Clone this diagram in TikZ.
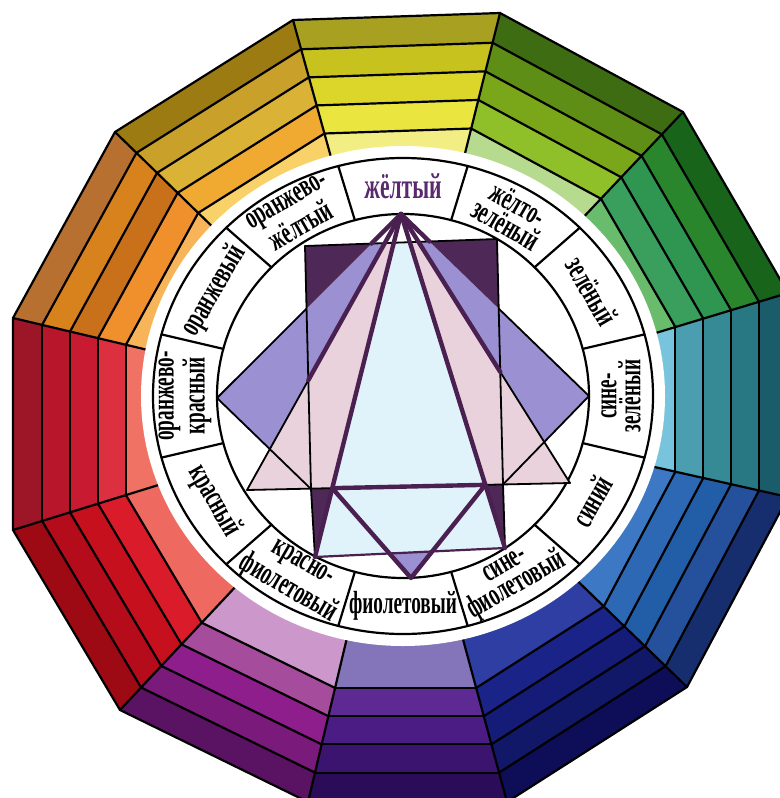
\documentclass[tikz,border=0pt]{standalone}
\usepackage{graphicx}
\usepackage{fontspec}
\setmainfont{Liberation Serif}
\newfontfamily\lblfont{Liberation Serif Bold}
\newcommand\sq[1]{\scalebox{0.6}[1]{#1}}
\usetikzlibrary{calc}
% segment colours, outer (a) to inner (e)
\definecolor{a90}{HTML}{A8A020}\definecolor{b90}{HTML}{C8C21E}\definecolor{c90}{HTML}{DCD62A}\definecolor{d90}{HTML}{EBE540}\definecolor{e90}{HTML}{F2EE84}
\definecolor{a60}{HTML}{3E6C12}\definecolor{b60}{HTML}{5E8E16}\definecolor{c60}{HTML}{7AA61A}\definecolor{d60}{HTML}{8FC02A}\definecolor{e60}{HTML}{B6DA8E}
\definecolor{a30}{HTML}{17641A}\definecolor{b30}{HTML}{2A862C}\definecolor{c30}{HTML}{2E9650}\definecolor{d30}{HTML}{3A9E5C}\definecolor{e30}{HTML}{68BC6C}
\definecolor{a0}{HTML}{1A5C6A}\definecolor{b0}{HTML}{287884}\definecolor{c0}{HTML}{368A96}\definecolor{d0}{HTML}{4A9EB0}\definecolor{e0}{HTML}{78C4DC}
\definecolor{a330}{HTML}{162E6E}\definecolor{b330}{HTML}{24509C}\definecolor{c330}{HTML}{225EA8}\definecolor{d330}{HTML}{2C68B4}\definecolor{e330}{HTML}{3C78C4}
\definecolor{a300}{HTML}{0E0E58}\definecolor{b300}{HTML}{121868}\definecolor{c300}{HTML}{141C78}\definecolor{d300}{HTML}{1A2488}\definecolor{e300}{HTML}{2E3EA2}
\definecolor{a270}{HTML}{2A0C58}\definecolor{b270}{HTML}{3A146E}\definecolor{c270}{HTML}{4A1C84}\definecolor{d270}{HTML}{5C2A92}\definecolor{e270}{HTML}{8474BA}
\definecolor{a240}{HTML}{5A1262}\definecolor{b240}{HTML}{7A1A7A}\definecolor{c240}{HTML}{8E1E8C}\definecolor{d240}{HTML}{A64C9C}\definecolor{e240}{HTML}{CC98CC}
\definecolor{a210}{HTML}{9E0A14}\definecolor{b210}{HTML}{B40C1A}\definecolor{c210}{HTML}{C6101E}\definecolor{d210}{HTML}{DA1C2A}\definecolor{e210}{HTML}{EE6A60}
\definecolor{a180}{HTML}{9C1628}\definecolor{b180}{HTML}{B8162A}\definecolor{c180}{HTML}{C81A30}\definecolor{d180}{HTML}{DC3040}\definecolor{e180}{HTML}{F07264}
\definecolor{a150}{HTML}{B87030}\definecolor{b150}{HTML}{D8821E}\definecolor{c150}{HTML}{C8701A}\definecolor{d150}{HTML}{F0902C}\definecolor{e150}{HTML}{F8B458}
\definecolor{a120}{HTML}{9C7C12}\definecolor{b120}{HTML}{C9A02A}\definecolor{c120}{HTML}{D9B236}\definecolor{d120}{HTML}{F0AA32}\definecolor{e120}{HTML}{F8D268}
% centre figure colours
\definecolor{dpurple}{HTML}{4E2856}
\definecolor{lav}{HTML}{9A90D2}
\definecolor{pinkish}{HTML}{E9D2DC}
\definecolor{lblue}{HTML}{E0F3FA}
\definecolor{lineP}{HTML}{4A2050}
\definecolor{yelText}{HTML}{5A2A6E}
\begin{document}
\begin{tikzpicture}[x=0.5pt,y=-0.5pt,
  bl/.style={draw=black,line width=1.1pt,line cap=round},
  thk/.style={draw=lineP,line width=2.2pt,line cap=round,line join=round},
  thn/.style={draw=black,line width=0.9pt,line cap=round},
  lb/.style={font={\lblfont\fontsize{16}{12}\selectfont},align=center,inner sep=0pt}]
\useasboundingbox (0,0) rectangle (780,798);
\fill[white] (0,0) rectangle (780,798);
\begin{scope}
\clip (0,0) rectangle (780,798);
\coordinate (C) at (401,410);
\coordinate (V0) at (788,293);
\coordinate (V1) at (683,112);
\coordinate (V2) at (500,13);
\coordinate (V3) at (293,20);
\coordinate (V4) at (115,132);
\coordinate (V5) at (13,318);
\coordinate (V6) at (13,530);
\coordinate (V7) at (120,710);
\coordinate (V8) at (308,802);
\coordinate (V9) at (507,802);
\coordinate (V10) at (687,687);
\coordinate (V11) at (788,497);
\foreach \i/\a/\b in {0/V11/V0,30/V0/V1,60/V1/V2,90/V2/V3,120/V3/V4,150/V4/V5,180/V5/V6,210/V6/V7,240/V7/V8,270/V8/V9,300/V9/V10,330/V10/V11}{
  \foreach \t/\u/\cl in {1/.925/a,.925/.853/b,.853/.781/c,.781/.709/d,.709/.55/e}{
    \fill[\cl\i] ($(C)!\t!(\a)$) -- ($(C)!\t!(\b)$) -- ($(C)!\u!(\b)$) -- ($(C)!\u!(\a)$) -- cycle;
  }
  \foreach \t in {.925,.853,.781,.709}{
    \draw[bl] ($(C)!\t!(\a)$) -- ($(C)!\t!(\b)$);
  }
}
\foreach \v in {V0,V1,V2,V3,V4,V5,V6,V7,V8,V9,V10,V11}{
  \draw[bl] (\v) -- ($(C)!.55!(\v)$);
}
\draw[bl,line join=round] (V0) -- (V1) -- (V2) -- (V3) -- (V4) -- (V5) -- (V6) -- (V7) -- (V8) -- (V9) -- (V10) -- (V11) -- cycle;
\end{scope}
% white disk and label ring
\fill[white] (403,396) ellipse [x radius=262, y radius=250];
\draw[line width=1.1pt] (403,396) ellipse [x radius=250, y radius=238];
\draw[line width=1.1pt] (403,396) ellipse [x radius=186, y radius=182];
\foreach \th in {15,45,...,345}{
  \draw[bl] ({403+186*cos(\th)},{396-182*sin(\th)}) -- ({403+250*cos(\th)},{396-238*sin(\th)});
}
% centre figure
\coordinate (Y) at (401,214);
\coordinate (L) at (217,398);
\coordinate (R) at (589,396);
\coordinate (CL) at (247,490);
\coordinate (CR) at (570,483);
\coordinate (TL) at (305,246);
\coordinate (TR) at (497,239);
\coordinate (BR) at (503,484.5);
\coordinate (BL) at (311,489);
\coordinate (P1) at (315,557);
\coordinate (P2) at (505,548);
\coordinate (V) at (411,578);
\coordinate (tL) at (intersection of Y--L and TL--TR);
\coordinate (tCL) at (intersection of Y--CL and TL--TR);
\coordinate (tP1) at (intersection of Y--P1 and TL--TR);
\coordinate (tP2) at (intersection of Y--P2 and TL--TR);
\coordinate (tCR) at (intersection of Y--CR and TL--TR);
\coordinate (tR) at (intersection of Y--R and TL--TR);
\coordinate (sL) at (intersection of Y--L and TL--BL);
\coordinate (sR) at (intersection of Y--R and TR--BR);
\coordinate (eCL) at (intersection of Y--CL and TL--BL);
\coordinate (eCR) at (intersection of Y--CR and TR--BR);
\coordinate (X1) at (intersection of Y--CL and L--BL);
\coordinate (X2) at (intersection of Y--CR and R--BR);
\coordinate (Q1) at (intersection of Y--P1 and CL--CR);
\coordinate (Q2) at (intersection of Y--P2 and CL--CR);
\coordinate (W1) at (intersection of Q1--V and P1--P2);
\coordinate (W2) at (intersection of Q2--V and P1--P2);
\fill[lblue] (tP1) -- (tP2) -- (P2) -- (P1) -- cycle;
\fill[pinkish] (tCL) -- (tP1) -- (Q1) -- (CL) -- cycle;
\fill[pinkish] (tP2) -- (tCR) -- (CR) -- (Q2) -- cycle;
\fill[lav] (tL) -- (tCL) -- (X1) -- (L) -- cycle;
\fill[lav] (tR) -- (tCR) -- (X2) -- (R) -- cycle;
\fill[dpurple] (TL) -- (tL) -- (sL) -- cycle;
\fill[dpurple] (TR) -- (tR) -- (sR) -- cycle;
\fill[dpurple] (BL) -- (Q1) -- (P1) -- cycle;
\fill[dpurple] (Q2) -- (BR) -- (P2) -- cycle;
\fill[lav] (W1) -- (W2) -- (V) -- cycle;
\draw[thn] (TL) -- (TR) -- (BR) -- (P2);
\draw[thn] (TL) -- (BL) -- (P1);
\draw[thn] (CL) -- (CR);
\draw[thn] (L) -- (BL);
\draw[thn] (R) -- (BR);
\draw[thn] (sL) -- (L);
\draw[thn] (sR) -- (R);
\draw[thn] (eCL) -- (CL);
\draw[thn] (eCR) -- (CR);
\draw[draw=lineP,line width=1.1pt] (P1) -- (P2);
\draw[thk] (Y) -- (P1);
\draw[thk] (Y) -- (P2);
\draw[thk] (Y) -- (eCL);
\draw[thk] (Y) -- (eCR);
\draw[thk] (Y) -- (tL);
\draw[thk] (Y) -- (tR);
\draw[thk] (Q1) -- (V) -- (Q2) -- cycle;
% labels
\node[lb,text=yelText,font={\lblfont\fontsize{18}{12}\selectfont}] (lab90) at ({403+218*cos(90)},{396-210*sin(90)}) {\sq{жёлтый}};
\foreach \th/\rot/\txt [count=\k] in {60/-30/{\sq{жёлто-}\\\sq{зелёный}},30/-60/{\sq{зелёный}},0/90/{\sq{сине-}\\\sq{зелёный}},330/60/{\sq{синий}},300/30/{\sq{сине-}\\\sq{фиолетовый}},270/0/{\sq{фиолетовый}},240/-30/{\sq{красно-}\\\sq{фиолетовый}},210/-60/{\sq{красный}},180/90/{\sq{оранжево-}\\\sq{красный}},150/60/{\sq{оранжевый}},120/30/{\sq{оранжево-}\\\sq{жёлтый}}}{
  \node[lb,rotate=\rot] (lab\k) at ({403+218*cos(\th)},{396-210*sin(\th)}) {\txt};
}
\end{tikzpicture}
\end{document}
